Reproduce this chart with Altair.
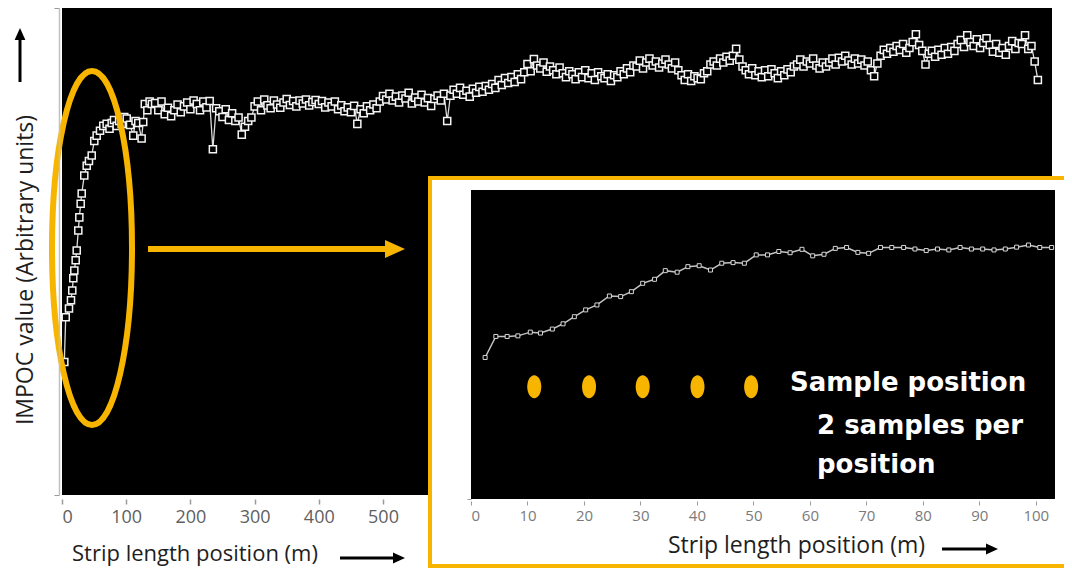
import altair as alt
import pandas as pd

ORANGE = "#F7B500"

# ---------------- main trace (strip length position in m, IMPOC value in arbitrary units)
early_pos = [3.6, 5.8, 10.9, 14.0, 16.0, 17.6, 19.2, 21.3, 22.9, 25.4,
             27.0, 29.1, 30.7, 34.7, 38.5, 42.0, 46.3, 50.3, 54.0, 59.2,
             64.3, 69.6, 74.0, 77.4, 81.0, 85.2, 89.0, 93.0, 97.0, 100.8,
             106.0, 111.0, 114.5, 118.8, 124.0, 126.5, 129.0, 133.0, 136.5, 140.0]
early_val = [27.3, 36.5, 38.3, 40.0, 42.0, 44.5, 46.1, 48.2, 50.2, 54.3,
             57.0, 59.8, 61.9, 65.6, 67.6, 68.6, 69.7, 72.7, 73.8, 74.8,
             75.8, 76.2, 75.2, 76.4, 77.0, 75.8, 76.8, 76.2, 77.6, 77.3,
             76.0, 73.8, 76.8, 76.4, 73.2, 76.6, 80.3, 79.0, 80.8, 80.3]

# values every 5 m from 145 m onwards
rest_start, rest_step = 145, 5
rest_val = [
    80.5, 79.0, 80.8, 78.2, 79.5, 77.8, 79.0, 80.2, 78.6, 79.8,
    80.6, 79.2, 81.0, 80.3, 79.0, 80.8, 79.6, 80.9, 71.0, 79.4,
    78.8, 77.6, 79.2, 77.0, 78.4, 76.8, 77.5, 74.0, 75.6, 76.8,
    77.5, 79.8, 80.8, 79.0, 81.2, 80.0, 79.4, 81.0, 80.2, 79.5,
    80.6, 81.3, 80.1, 80.9, 79.8, 81.0, 80.4, 81.2, 80.0, 80.7,
    81.1, 80.3, 80.9, 79.6, 80.6, 79.8, 80.8, 79.2, 80.0, 78.8,
    79.6, 78.6, 79.9, 76.2, 79.2, 78.4, 79.8, 79.0, 80.2, 79.4,
    80.8, 81.9, 81.2, 82.4, 81.0, 81.8, 80.6, 82.0, 81.4, 82.6,
    80.4, 81.6, 80.8, 82.2, 80.6, 81.5, 79.9, 81.3, 82.0, 81.0,
    82.4, 76.8, 82.0, 83.2, 82.4, 83.6, 82.2, 83.0, 81.8, 83.4,
    82.6, 83.8, 82.8, 84.0, 83.2, 84.4, 83.6, 85.2, 84.2, 85.6,
    84.6, 85.8, 84.8, 86.4, 85.4, 86.8, 88.5, 87.0, 89.5, 88.2,
    87.6, 88.8, 86.9, 88.0, 87.2, 86.4, 87.8, 86.6, 85.8, 87.0,
    86.4, 85.4, 86.8, 85.8, 87.2, 85.6, 86.6, 85.2, 86.8, 86.0,
    85.6, 86.4, 85.0, 86.2, 85.8, 87.0, 86.4, 87.6, 86.8, 88.2,
    88.0, 89.2, 87.6, 88.8, 89.6, 88.2, 89.0, 87.8, 88.6, 89.4,
    88.4, 87.6, 88.8, 87.2, 86.2, 85.2, 86.4, 85.0, 86.0, 85.6,
    85.4, 86.6, 87.0, 88.4, 89.0, 88.2, 89.6, 88.8, 90.0, 89.2,
    90.2, 91.6, 89.4, 88.0, 87.2, 86.4, 87.6, 86.2, 87.0, 85.8,
    87.2, 86.0, 87.4, 86.6, 85.6, 87.0, 86.2, 87.4, 86.8, 88.0,
    88.4, 89.4, 88.0, 89.0, 88.6, 89.6, 88.2, 87.6, 88.8, 88.0,
    88.8, 89.6, 88.4, 89.8, 89.0, 90.2, 89.2, 88.4, 89.6, 88.6,
    89.4, 88.2, 89.0, 87.2, 86.0, 88.6, 90.2, 91.4, 90.6, 91.8,
    91.0, 92.2, 91.4, 92.6, 90.8, 91.8, 93.0, 94.6, 92.4, 91.2,
    88.4, 90.6, 91.2, 90.0, 91.4, 90.4, 91.8, 90.6, 92.0, 91.2,
    92.6, 93.4, 92.0, 94.4, 93.0, 92.2, 93.6, 91.8, 92.8, 93.8,
    92.4, 91.0, 92.6, 90.8, 91.8, 90.4, 92.2, 93.2, 91.6, 92.8,
    92.6, 94.4, 91.6, 92.2, 89.0, 85.2,
]
rest_pos = list(range(rest_start, rest_start + rest_step * len(rest_val), rest_step))

main_df = pd.DataFrame({"pos": early_pos + rest_pos, "val": early_val + rest_val})
main_df["order"] = range(len(main_df))

MAIN_X_DOMAIN = [0, 1542]
MAIN_Y_DOMAIN = [0, 100]
main_ticks = [0, 100, 200, 300, 400, 500]

# ---------------- inset trace (first ~100 m)
inset_pos = [2.5, 4.4, 6.4, 8.3, 10.5, 12.3, 14.4, 16.3, 18.3, 20.3,
             22.3, 24.5, 26.5, 28.4, 30.4, 32.5, 34.4, 36.5, 38.4, 40.4,
             42.4, 44.4, 46.4, 48.4, 50.5, 52.5, 54.5, 56.5, 58.6, 60.5,
             62.5, 64.5, 66.5, 68.5, 70.4, 72.5, 74.5, 76.6, 78.6, 80.6,
             82.6, 84.6, 86.6, 88.6, 90.6, 92.6, 94.6, 96.6, 98.7, 100.7, 102.8]
inset_val = [45.8, 52.6, 52.6, 52.8, 54.0, 53.7, 55.0, 56.7, 59.0, 61.2,
             62.8, 65.7, 65.5, 67.1, 69.8, 71.1, 73.9, 73.4, 75.2, 75.5,
             74.1, 76.3, 76.5, 76.3, 79.0, 79.0, 80.1, 79.7, 80.8, 78.7,
             79.2, 81.1, 81.4, 79.8, 79.5, 81.4, 81.4, 81.4, 80.9, 80.4,
             80.9, 80.6, 81.4, 80.9, 80.9, 80.6, 80.9, 81.5, 82.2, 81.4, 81.4]
inset_df = pd.DataFrame({"pos": inset_pos, "val": inset_val})
inset_df["order"] = range(len(inset_df))

sample_pos = [11.2, 20.9, 30.4, 40.1, 49.6]
sample_level = [36.3, 36.3, 36.3, 36.3, 36.3]
sample_df = pd.DataFrame({"pos": sample_pos, "val": sample_level})

INSET_X_DOMAIN = [0, 103.4]
INSET_Y_DOMAIN = [0, 100]
inset_ticks = [0, 10, 20, 30, 40, 50, 60, 70, 80, 90, 100]

one = pd.DataFrame({"k": [0]})

# ---------------- scales & axes
main_xs = alt.Scale(domain=MAIN_X_DOMAIN, range=[54, 1044], nice=False, zero=False)
main_ys = alt.Scale(domain=MAIN_Y_DOMAIN, range=[487, 0], nice=False, zero=False)
inset_xs = alt.Scale(domain=INSET_X_DOMAIN, range=[463, 1047], nice=False, zero=False)
inset_ys = alt.Scale(domain=INSET_Y_DOMAIN, range=[491, 182], nice=False, zero=False)

main_x_axis = alt.Axis(orient="bottom", offset=-70, values=main_ticks, domain=False, grid=False,
                       tickSize=5, tickColor="#9a9a9a", tickWidth=1.5,
                       labelFont="Open Sans", labelFontSize=18, labelColor="#5f5f5f",
                       labelPadding=4, title=None, zindex=1)
main_y_axis = alt.Axis(orient="left", offset=-51, values=[0, 100], domain=True,
                       domainColor="#c0c0c0", domainWidth=1.5, grid=False,
                       tickSize=5, tickColor="#9a9a9a", labels=False, title=None, zindex=1)
inset_x_axis = alt.Axis(orient="bottom", offset=-68, values=inset_ticks, domain=False, grid=False,
                        tickSize=4, tickColor="#9a9a9a",
                        labelFont="Open Sans", labelFontSize=15, labelColor="#7a7a7a",
                        labelPadding=3, title=None, zindex=1)
inset_y_axis = alt.Axis(orient="left", offset=-463, values=[0], domain=False, grid=False,
                        tickSize=4, tickColor="#9a9a9a", labels=False, title=None, zindex=1)


def mx(field):
    return alt.X(field, type="quantitative", scale=main_xs, axis=main_x_axis)


def my(field):
    return alt.Y(field, type="quantitative", scale=main_ys, axis=main_y_axis)


def ix(field):
    return alt.X(field, type="quantitative", scale=inset_xs, axis=inset_x_axis)


def iy(field):
    return alt.Y(field, type="quantitative", scale=inset_ys, axis=inset_y_axis)


# ---------------- main panel
main_bg = alt.Chart(pd.DataFrame({"x0": [MAIN_X_DOMAIN[0]], "x1": [MAIN_X_DOMAIN[1]],
                                  "y0": [MAIN_Y_DOMAIN[0]], "y1": [MAIN_Y_DOMAIN[1]]})).mark_rect(
    color="black").encode(x=mx("x0"), x2="x1:Q", y=my("y0"), y2="y1:Q")

main_line = alt.Chart(main_df).mark_line(color="#dcdcdc", strokeWidth=1.3).encode(
    x=mx("pos"), y=my("val"), order="order:Q")

main_pts = alt.Chart(main_df).mark_point(shape="square", filled=True, fill="black",
                                         stroke="#f4f4f4", strokeWidth=1.5, size=50,
                                         opacity=1).encode(x=mx("pos"), y=my("val"))

main_layer = alt.layer(main_bg, main_line, main_pts)

# ---------------- annotations on the main panel
ellipse_big = ("M0,-1 C0.1248,-1 0.226,-0.5523 0.226,0 C0.226,0.5523 0.1248,1 0,1 "
               "C-0.1248,1 -0.226,0.5523 -0.226,0 C-0.226,-0.5523 -0.1248,-1 0,-1 Z")
ellipse_dot = ("M0,-1 C0.3369,-1 0.61,-0.5523 0.61,0 C0.61,0.5523 0.3369,1 0,1 "
               "C-0.3369,1 -0.61,0.5523 -0.61,0 C-0.61,-0.5523 -0.3369,-1 0,-1 Z")
head_right = "M-1,-0.9 L1,0 L-1,0.9 Z"
head_up = "M-0.9,1 L0,-1 L0.9,1 Z"

ring = alt.Chart(one).mark_point(shape=ellipse_big, size=125316, filled=False,
                                 stroke=ORANGE, strokeWidth=6, opacity=1).encode(
    x=alt.value(84), y=alt.value(240))

orange_shaft = alt.Chart(one).mark_rule(color=ORANGE, strokeWidth=6).encode(
    x=alt.value(140), x2=alt.value(382), y=alt.value(241))
orange_head = alt.Chart(one).mark_point(shape=head_right, size=400, filled=True,
                                        color=ORANGE, opacity=1).encode(
    x=alt.value(387), y=alt.value(241))

# axis titles with arrows
y_title = alt.Chart(one).mark_text(text="IMPOC value (Arbitrary units)", angle=270,
                                   font="Open Sans", fontSize=23, color="#1e1e1e",
                                   align="center", baseline="middle").encode(
    x=alt.value(18), y=alt.value(262))
y_shaft = alt.Chart(one).mark_rule(color="black", strokeWidth=3).encode(
    x=alt.value(12), y=alt.value(74), y2=alt.value(30))
y_head = alt.Chart(one).mark_point(shape=head_up, size=144, filled=True,
                                   color="black", opacity=1).encode(
    x=alt.value(12), y=alt.value(26))

x_title = alt.Chart(one).mark_text(text="Strip length position (m)", font="Open Sans",
                                   fontSize=22, color="#1e1e1e", align="left",
                                   baseline="middle").encode(x=alt.value(64), y=alt.value(546))
x_shaft = alt.Chart(one).mark_rule(color="black", strokeWidth=3).encode(
    x=alt.value(332), x2=alt.value(388), y=alt.value(550))
x_head = alt.Chart(one).mark_point(shape=head_right, size=144, filled=True,
                                   color="black", opacity=1).encode(
    x=alt.value(391), y=alt.value(550))

# ---------------- inset panel
inset_box = alt.Chart(one).mark_rect(fill="white", stroke=ORANGE, strokeWidth=4).encode(
    x=alt.value(422), x2=alt.value(1062), y=alt.value(170), y2=alt.value(558))

inset_bg = alt.Chart(pd.DataFrame({"x0": [INSET_X_DOMAIN[0]], "x1": [INSET_X_DOMAIN[1]],
                                   "y0": [INSET_Y_DOMAIN[0]], "y1": [INSET_Y_DOMAIN[1]]})).mark_rect(
    color="black").encode(x=ix("x0"), x2="x1:Q", y=iy("y0"), y2="y1:Q")

inset_line = alt.Chart(inset_df).mark_line(color="#c4c4c4", strokeWidth=1.5).encode(
    x=ix("pos"), y=iy("val"), order="order:Q")
inset_pts = alt.Chart(inset_df).mark_point(shape="square", filled=True, fill="black",
                                           stroke="#d6d6d6", strokeWidth=1, size=16,
                                           opacity=1).encode(x=ix("pos"), y=iy("val"))
inset_dots = alt.Chart(sample_df).mark_point(shape=ellipse_dot, size=529, filled=True,
                                             color=ORANGE, opacity=1).encode(
    x=ix("pos"), y=iy("val"))

inset_layer = alt.layer(inset_box, inset_bg, inset_line, inset_pts, inset_dots)

label_font = dict(font="DejaVu Sans", fontSize=26, fontWeight="bold", color="white",
                  align="left", baseline="middle")
t1 = alt.Chart(one).mark_text(text="Sample position", **label_font).encode(
    x=alt.value(782), y=alt.value(375))
t2 = alt.Chart(one).mark_text(text="2 samples per", **label_font).encode(
    x=alt.value(809), y=alt.value(418))
t3 = alt.Chart(one).mark_text(text="position", **label_font).encode(
    x=alt.value(809), y=alt.value(457))

ix_title = alt.Chart(one).mark_text(text="Strip length position (m)", font="Open Sans",
                                    fontSize=23, color="#1e1e1e", align="left",
                                    baseline="middle").encode(x=alt.value(660), y=alt.value(538))
ix_shaft = alt.Chart(one).mark_rule(color="black", strokeWidth=3).encode(
    x=alt.value(934), x2=alt.value(980), y=alt.value(541))
ix_head = alt.Chart(one).mark_point(shape=head_right, size=144, filled=True,
                                    color="black", opacity=1).encode(
    x=alt.value(984), y=alt.value(541))

chart = alt.layer(
    main_layer, ring, orange_shaft, orange_head,
    y_title, y_shaft, y_head, x_title, x_shaft, x_head,
    inset_layer, t1, t2, t3, ix_title, ix_shaft, ix_head,
).resolve_scale(x="independent", y="independent").resolve_axis(
    x="independent", y="independent"
).properties(
    width=1056, height=561, padding=0,
    autosize=alt.AutoSizeParams(type="none"),
).configure_view(stroke="transparent")

chart.save("out.html", embed_options={"renderer": "svg", "actions": False})
